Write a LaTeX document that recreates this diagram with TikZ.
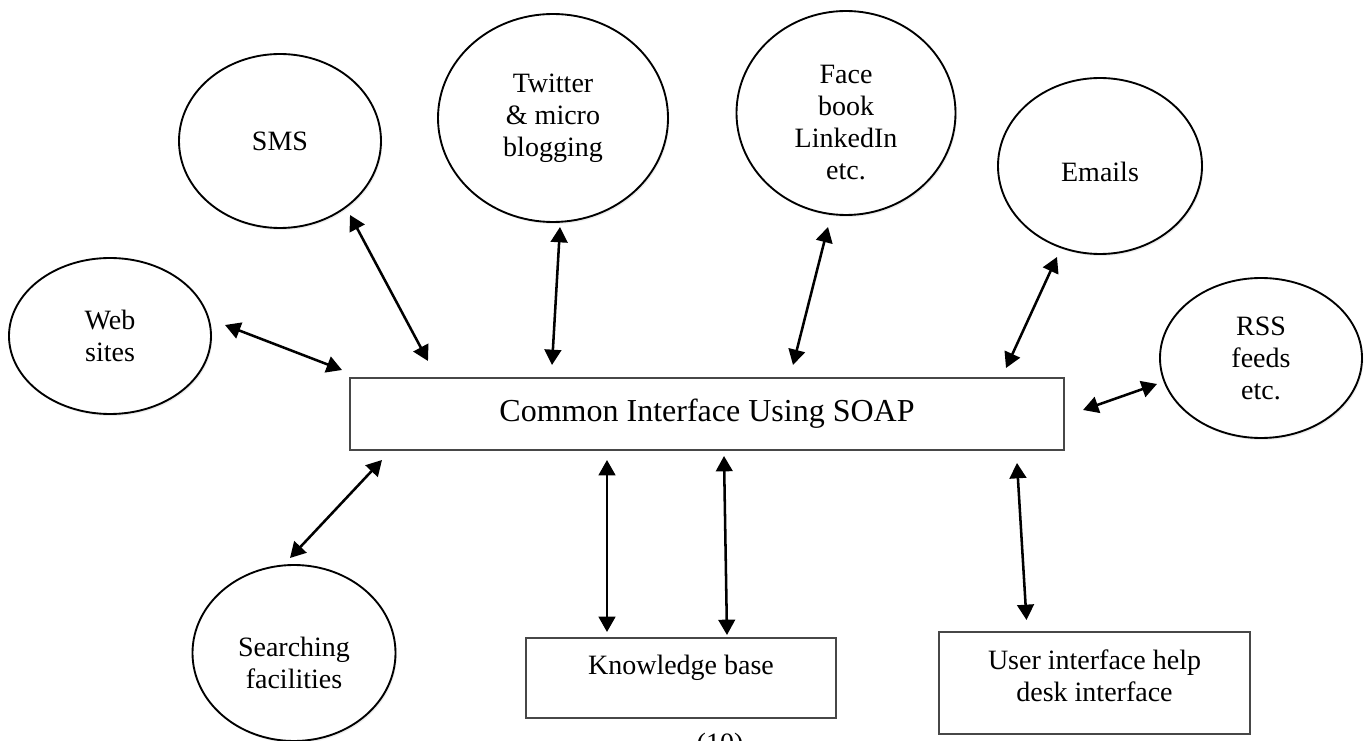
\documentclass[tikz,border=0pt]{standalone}
\usepackage{fontspec}
\setmainfont{Liberation Serif}
\usetikzlibrary{shapes.geometric,arrows.meta,shadows}
\begin{document}
\begin{tikzpicture}[x=0.75pt,y=-0.75pt,
  oval/.style={ellipse, draw=black, line width=1.4pt, fill=white, inner sep=0pt, align=center,
    font=\fontsize{21}{24}\selectfont,
    drop shadow={opacity=0.15, shadow xshift=1pt, shadow yshift=-1.5pt}},
  box/.style={rectangle, draw=black!72, line width=1.2pt, inner sep=0pt, align=center,
    font=\fontsize{21}{24}\selectfont},
  txt/.style={inner sep=0pt, align=center, font=\fontsize{21}{24}\selectfont},
  arr/.style={line width=1.9pt, {Triangle[length=11.5pt,width=12.5pt]}-{Triangle[length=11.5pt,width=12.5pt]}}]
\clip (0,0) rectangle (1364,741);
\fill[white] (0,0) rectangle (1364,741);

% ellipses
\node[oval, minimum width=151.5pt, minimum height=117pt] (web) at (110,336) {Web\\sites};
\node[oval, minimum width=151.5pt, minimum height=130.5pt] (sms) at (280,141) {SMS};
\node[oval, minimum width=172.5pt, minimum height=156pt] (tw) at (553,118) {Twitter\\\& micro\\blogging};
\node[oval, minimum width=164.25pt, minimum height=153pt,
  label={[txt, name=fbt, yshift=-7.5pt]center:Face\\book\\LinkedIn\\etc.}] (fb) at (846,113) {};
\node[oval, minimum width=153pt, minimum height=132pt,
  label={[txt, name=emt, yshift=-4.5pt]center:Emails}] (em) at (1100,166) {};
\node[oval, minimum width=151.5pt, minimum height=120pt] (rss) at (1261,358) {RSS\\feeds\\etc.};
\node[oval, minimum width=152.25pt, minimum height=132pt,
  label={[txt, name=sft, yshift=-7.5pt]center:Searching\\facilities}] (sf) at (294,653) {};

% boxes
\node[box, minimum width=535.5pt, minimum height=54pt, font=\fontsize{24}{28}\selectfont] (main) at (707,414) {Common Interface Using SOAP};
\node[box, minimum width=232.5pt, minimum height=60pt,
  label={[txt, name=kbt, yshift=7.5pt]center:Knowledge base}] (kb) at (681,678) {};
\node[box, minimum width=233.25pt, minimum height=76.5pt,
  label={[txt, name=uit, yshift=5.5pt]center:User interface help\\desk interface}] (ui) at (1094.5,683) {};

\node[txt] (pg) at (720,746) {(10)};

% connectors
\draw[arr] ([shift={(115,-11)}]web.center) -- ([shift={(-365,-44)}]main.center);
\draw[arr] ([shift={(70,74)}]sms.center) -- ([shift={(-279,-53)}]main.center);
\draw[arr] ([shift={(7,109)}]tw.center) -- ([shift={(-155,-49)}]main.center);
\draw[arr] ([shift={(-18,114)}]fb.center) -- ([shift={(86,-49)}]main.center);
\draw[arr] ([shift={(-43,91)}]em.center) -- ([shift={(299,-46)}]main.center);
\draw[arr] ([shift={(-104,26)}]rss.center) -- ([shift={(376,-4)}]main.center);
\draw[arr] ([shift={(-4,-95)}]sf.center) -- ([shift={(-325,46)}]main.center);
\draw[arr] ([shift={(-74,-46)}]kb.center) -- ([shift={(-100,46)}]main.center);
\draw[arr] ([shift={(46,-43)}]kb.center) -- ([shift={(17,42)}]main.center);
\draw[arr] ([shift={(-68,-63)}]ui.center) -- ([shift={(310,49)}]main.center);
\end{tikzpicture}
\end{document}
